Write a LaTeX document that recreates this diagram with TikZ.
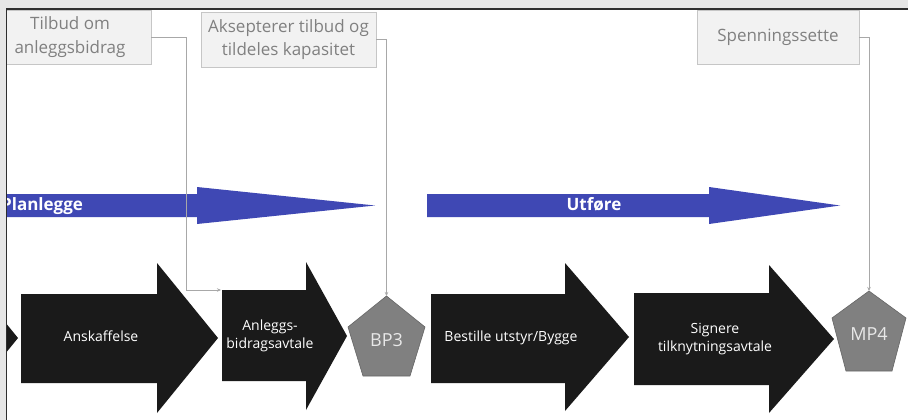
\documentclass[tikz,border=0pt]{standalone}
\usepackage{fontspec}
\setmainfont{Open Sans}
\usetikzlibrary{arrows.meta}
\definecolor{framegray}{HTML}{E6E6E6}
\definecolor{frameline}{HTML}{2E2E2E}
\definecolor{boxfill}{HTML}{F2F2F2}
\definecolor{boxline}{HTML}{C6C6C6}
\definecolor{boxtext}{HTML}{808080}
\definecolor{blueband}{RGB}{63,72,180}
\definecolor{stepblack}{HTML}{1A1A1A}
\definecolor{pentfill}{HTML}{808080}
\definecolor{pentline}{HTML}{666666}
\definecolor{pentext}{HTML}{E8E8E8}
\definecolor{conncol}{HTML}{A8A8A8}
\begin{document}
\begin{tikzpicture}[x=1pt,y=-1pt,
  notebox/.style={draw=boxline, fill=boxfill, line width=0.8pt, text=boxtext,
    font=\fontsize{17}{23.5}\selectfont, align=center, inner sep=0pt},
  band/.style={fill=blueband},
  bandtext/.style={text=white, font=\fontsize{17}{20}\selectfont\bfseries, inner sep=0pt},
  stepshape/.style={fill=stepblack},
  steptext/.style={text=white, font=\fontsize{14}{18.5}\selectfont, align=center, inner sep=0pt},
  pentshape/.style={fill=pentfill, draw=pentline, line width=0.6pt},
  pentlabel/.style={text=pentext, font=\fontsize{18}{20}\selectfont, inner sep=0pt, anchor=base},
  conn/.style={draw=conncol, line width=0.9pt, -{Stealth[length=4pt,width=3.5pt]}}
]
\useasboundingbox (0,0) rectangle (908,420);
\fill[framegray] (0,0) rectangle (908,420);
\fill[white] (7,9) rectangle (908,420);

\begin{scope}
\clip (7,9) rectangle (908,420);

% blue phase arrows
\fill[band] (-10,194) -- (197,194) -- (197,187) -- (375,205.5) -- (197,224) -- (197,217) -- (-10,217) -- cycle;
\node[bandtext, anchor=base west] (planlegge) at (1,210) {Planlegge};
\fill[band] (427,194) -- (709,194) -- (709,187) -- (840,205.5) -- (709,224) -- (709,217) -- (427,217) -- cycle;
\node[bandtext, anchor=base] (utfore) at (594,210) {Utføre};

% note boxes
\node[notebox, minimum width=162pt, minimum height=54pt] (box1) at (70,37) {Tilbud om\\anleggsbidrag};
\node[notebox, minimum width=175pt, minimum height=55pt] (box2) at (288.5,39.5) {Aksepterer tilbud og\\tildeles kapasitet};
\node[notebox, minimum width=162pt, minimum height=54pt] (box3) at (778,37) {Spenningssette};

% black step arrows
\fill[stepshape] (-200,294) -- (-43,294) -- (-43,263) -- (18,338) -- (-43,413) -- (-43,383) -- (-200,383) -- cycle;
\fill[stepshape] (21,294) -- (157,294) -- (157,263) -- (218,338) -- (157,413) -- (157,383) -- (21,383) -- cycle;
\node[steptext, anchor=base] (anskaffelse) at (101,341.5) {Anskaffelse};
\fill[stepshape] (222,290) -- (306,290) -- (306,262) -- (347,336) -- (306,410) -- (306,381) -- (222,381) -- cycle;
\coordinate (anltl) at (221,290);
\node[steptext] (anleggs) at (270,336) {Anleggs-\\bidragsavtale};
\fill[stepshape] (431,294) -- (565,294) -- (565,263) -- (629,337) -- (565,411) -- (565,383) -- (431,383) -- cycle;
\node[steptext, anchor=base] (bestille) at (511,341) {Bestille utstyr/Bygge};
\fill[stepshape] (634,293) -- (769,293) -- (769,265) -- (834,339) -- (769,413) -- (769,385) -- (634,385) -- cycle;
\node[steptext] (signere) at (715,339) {Signere\\tilknytningsavtale};

% milestone pentagons
\draw[pentshape] (386.5,296) -- (425,327) -- (410,376) -- (363,376) -- (348,327) -- cycle;
\coordinate (bp3top) at (386.5,296);
\node[pentlabel] (bp3) at (386.5,346.5) {BP3};
\draw[pentshape] (869,291) -- (906,318) -- (892,371) -- (846,371) -- (832,318) -- cycle;
\coordinate (mp4top) at (869,291);
\node[pentlabel] (mp4) at (869,340.5) {MP4};

% connectors
\draw[conn] (box1.east) -- ++(35.5,0) |- (anltl);
\draw[conn] (box2.east) -| (bp3top);
\draw[conn] (box3.east) -| (mp4top);
\end{scope}

\draw[frameline, line width=1.3pt] (6.6,420) -- (6.6,9) -- (908,9);
\end{tikzpicture}
\end{document}
